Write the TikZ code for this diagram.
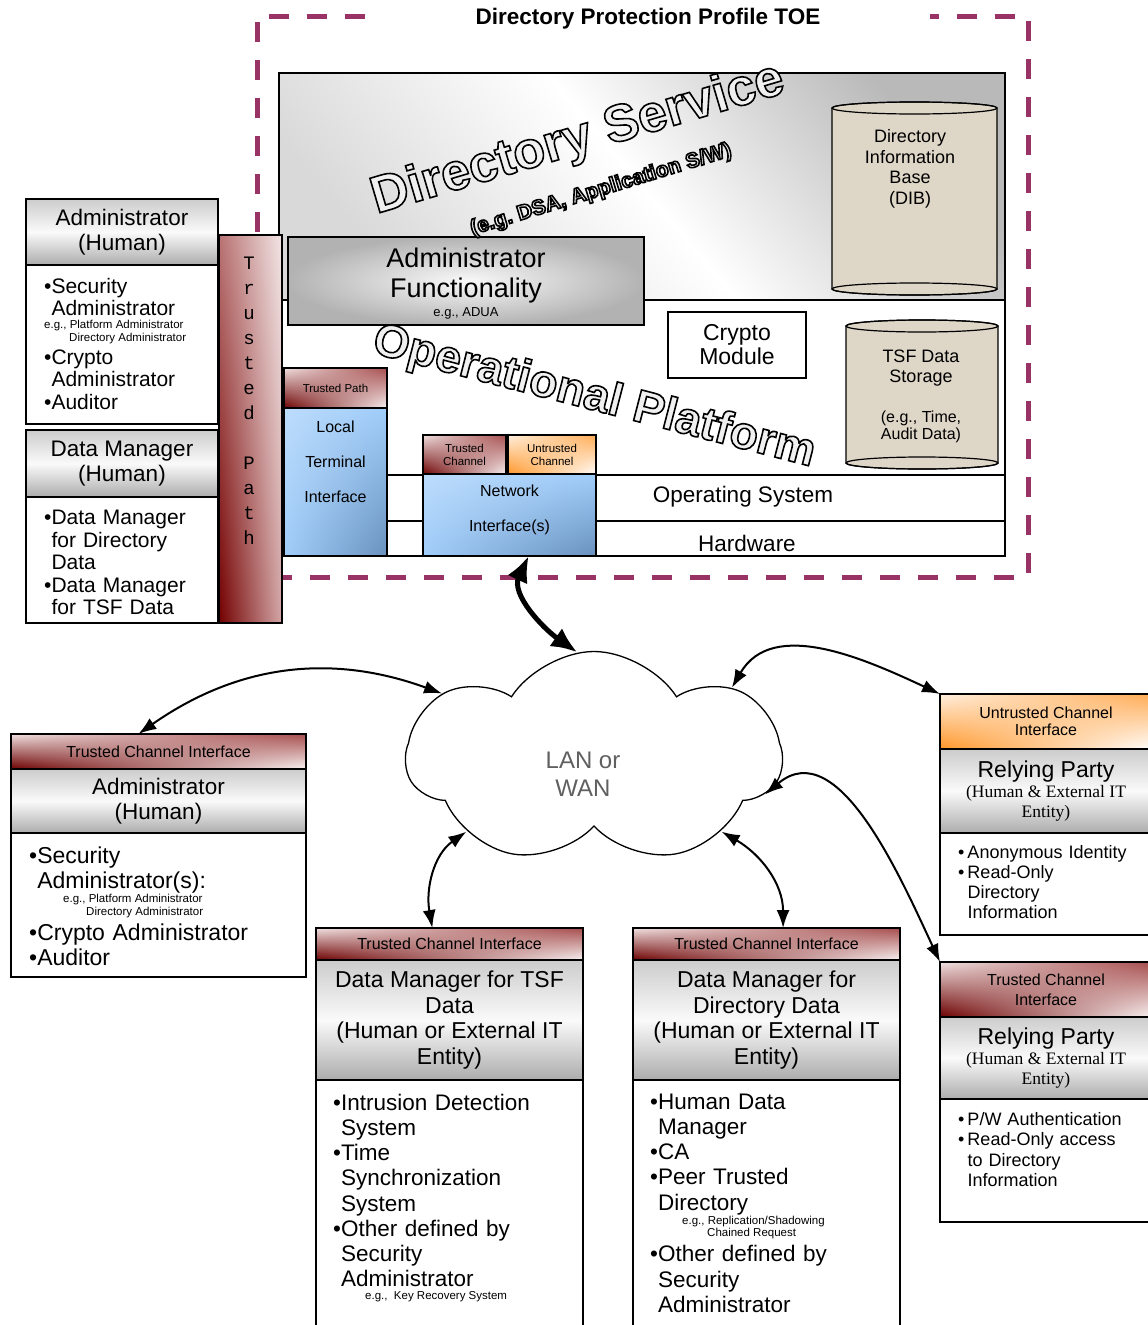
\documentclass[tikz,border=0pt]{standalone}
\usepackage{fontspec}
\setmainfont{Liberation Sans}
\newfontfamily\serifrm{Liberation Serif}
\newfontfamily\monott{Liberation Mono}
\usetikzlibrary{arrows.meta,shapes.symbols,shadings,positioning}
\definecolor{toepurple}{RGB}{153,51,102}
\definecolor{maroon}{RGB}{128,0,0}
\definecolor{netblue}{RGB}{160,205,250}
\definecolor{netdark}{RGB}{105,145,190}
\definecolor{orng}{RGB}{255,150,40}
\definecolor{dibc}{RGB}{222,214,199}
\newcommand\fsz[2]{\fontsize{#1}{#2}\selectfont\spaceskip=\fontdimen2\font\xspaceskip=\fontdimen2\font\relax}
\newcommand\bulind{\hphantom{•}}
\newcommand\rb{•\hspace{3pt}}
\newcommand\rbi{\hphantom{•\hspace{3pt}}}
\newcommand\outl[1]{\special{pdf:literal direct 2 Tr 1.6 w 0 G 0.94 g}#1\special{pdf:literal direct 0 Tr 0 g 0 G}}
\setlength\parindent{0pt}

\begin{document}
\begin{tikzpicture}[x=1pt,y=1pt,
box/.style={draw, line width=1.4pt, anchor=north west, inner sep=0pt, outer sep=0pt},
body/.style={box, fill=white},
txt/.style={anchor=north west, inner sep=0pt, align=left, text width=260pt},
redhdr/.style={shade, shading=bilinear interpolation,
  lower left=maroon!85!black, upper left=maroon!12!white,
  upper right=maroon!70, lower right=maroon!5!white},
orghdr/.style={shade, shading=bilinear interpolation,
  lower left=orng, upper left=orng!15!white,
  upper right=orng!80, lower right=white},
grayhdr/.style={top color=gray!40, bottom color=gray!65, middle color=gray!4},
bluebox/.style={shade, shading=bilinear interpolation,
  upper left=netblue!70!white, lower left=netblue,
  upper right=netblue, lower right=netdark},
cyl/.style={draw, line width=1.2pt, fill=dibc},
toeline/.style={draw=toepurple, line width=5pt, dash pattern=on 20pt off 18pt},
link/.style={line width=2pt, <->},
biglink/.style={line width=5pt, {Latex[length=26pt,width=22pt]}-{Latex[length=26pt,width=22pt]}},
>={Latex[length=18pt,width=13pt]}
]
\useasboundingbox (0,0) rectangle (1148,-1325);

% TOE boundary
\draw[toeline] (365,-16) -- (257,-16) -- (257,-577) -- (1028,-577) -- (1028,-16) -- (930,-16);
\node[font=\bfseries\fsz{22.5}{25}] (toe) at (648,-19) {Directory Protection Profile TOE};

% directory service and platform
\node[box, minimum width=726pt, minimum height=227pt,
  top color=gray!55, bottom color=gray!30, middle color=white, shading angle=-50] (dsv) at (279,-73) {};
\node[body, minimum width=726pt, minimum height=256pt] (plat) at (279,-300) {};
\node[body, minimum width=726pt, minimum height=46pt] (os) at (279,-475) {};
\node[body, minimum width=726pt, minimum height=35pt] (hw) at (279,-521) {};
\node[font=\fsz{22.5}{25}] (ostxt) at (743,-497) {Operating System};
\node[font=\fsz{22.5}{25}] (hwtxt) at (747,-543) {Hardware};

\node[box, minimum width=356pt, minimum height=88pt, inner color=gray!5, outer color=gray!60] (adf) at (288,-237) {};
\node[font=\fsz{27}{30}, align=center] (adft) at (466,-276) {Administrator\\Functionality};
\node[font=\fsz{13}{15}] (adfe) at (466,-313) {e.g., ADUA};

\node[body, minimum width=138pt, minimum height=66pt, align=center, font=\fsz{23}{24}] (cry) at (668,-312) {Crypto\\Module};

% data stores
\path[cyl] (832,-108) -- (832,-289) arc[start angle=180, end angle=360, x radius=82.5, y radius=6]
  -- (997,-108) arc[start angle=0, end angle=180, x radius=82.5, y radius=6] -- cycle;
\draw[line width=1.2pt] (914.5,-108) ellipse[x radius=82.5, y radius=6];
\draw[line width=1.2pt] (914.5,-289) ellipse[x radius=82.5, y radius=6];
\node[font=\fsz{18}{20.5}, align=center] (dibt) at (910,-169) {Directory\\Information\\Base\\(DIB)};

\path[cyl] (846,-326) -- (846,-463) arc[start angle=180, end angle=360, x radius=76, y radius=6]
  -- (998,-326) arc[start angle=0, end angle=180, x radius=76, y radius=6] -- cycle;
\draw[line width=1.2pt] (922,-326) ellipse[x radius=76, y radius=6];
\draw[line width=1.2pt] (922,-463) ellipse[x radius=76, y radius=6];
\node[font=\fsz{18}{20}, align=center] (tsft) at (921,-368) {TSF Data\\Storage};
\node[font=\fsz{16}{16.5}, align=center] (tsfe) at (921,-427) {(e.g., Time,\\Audit Data)};

% interfaces
\node[box, redhdr, minimum width=103pt, minimum height=40pt, font=\fsz{11.5}{13}] (tpl) at (284,-368) {Trusted Path};
\node[box, bluebox, minimum width=103pt, minimum height=148pt] (lti) at (284,-408) {};
\node[font=\fsz{16}{35}, align=center] (ltit) at (335.5,-462) {Local\\Terminal\\Interface};
\node[box, redhdr, minimum width=83pt, minimum height=39pt, align=center, font=\fsz{11.5}{13}] (tch) at (423,-435) {Trusted\\Channel};
\node[box, orghdr, minimum width=88pt, minimum height=39pt, align=center, font=\fsz{11.5}{13}] (uch) at (508,-435) {Untrusted\\Channel};
\node[box, bluebox, minimum width=173pt, minimum height=82pt] (nif) at (423,-474) {};
\node[font=\fsz{16}{35}, align=center] (nift) at (509.5,-509.5) {Network\\Interface(s)};

% big outlined titles
\node[rotate=16.5, font=\bfseries\fsz{52}{52}] (dsvt) at (578,-140) {\outl{Directory Service}};
\node[rotate=17, font=\bfseries\fsz{21}{21}] (dsve) at (601,-190) {\outl{(e.g. DSA, Application S/W)}};
\node[rotate=-14.5, font=\bfseries\fsz{46}{46}] (opt) at (594,-398) {\outl{Operational Platform}};

% trusted path bar
\node[box, shade, shading=bilinear interpolation, lower left=maroon!90!black, upper left=maroon!55!white,
  upper right=maroon!10!white, lower right=maroon!35!white, minimum width=63pt, minimum height=388pt] (tpv) at (219,-235) {};
\node[font=\monott\fsz{19}{25}, align=center] (tpvt) at (249,-401) {T\\r\\u\\s\\t\\e\\d\\[25pt]P\\a\\t\\h};

% local users
\node[box, grayhdr, minimum width=192pt, minimum height=66pt, align=center, font=\fsz{22.5}{25}] (admh) at (26,-199) {Administrator\\(Human)};
\node[body, minimum width=192pt, minimum height=159pt] (admb) at (26,-265) {};
\node[txt, font=\fsz{21}{22.5}] (admbt) at (44,-278) {•Security\\\bulind Administrator\par
  {\fsz{11.5}{13}e.g., Platform Administrator\\\hspace*{25pt}Directory Administrator\par}
  •Crypto\\\bulind Administrator\\•Auditor};

\node[box, grayhdr, minimum width=192pt, minimum height=67pt, align=center, font=\fsz{22.5}{25}] (dmh) at (26,-430) {Data Manager\\(Human)};
\node[body, minimum width=192pt, minimum height=126pt] (dmb) at (26,-497) {};
\node[txt, font=\fsz{21}{22.5}] (dmbt) at (44,-510) {•Data Manager\\\bulind for Directory\\\bulind Data\\•Data Manager\\\bulind for TSF Data};

% remote administrator
\node[box, redhdr, minimum width=295pt, minimum height=35pt, font=\fsz{16}{18}] (tcia) at (11,-734) {Trusted Channel Interface};
\node[box, grayhdr, minimum width=295pt, minimum height=64pt, align=center, font=\fsz{22.5}{25}] (tcib) at (11,-769) {Administrator\\(Human)};
\node[body, minimum width=295pt, minimum height=144pt] (tcic) at (11,-833) {};
\node[txt, font=\fsz{23}{25}] (tcict) at (29,-846.5) {•Security\\\bulind Administrator(s):\par
  {\fsz{11.5}{13}\hspace*{34pt}e.g., Platform Administrator\\\hspace*{57pt}Directory Administrator\par}
  •Crypto Administrator\\•Auditor};

% data managers
\node[box, redhdr, minimum width=267pt, minimum height=32pt, font=\fsz{16}{18}] (dmt) at (316,-928) {Trusted Channel Interface};
\node[box, grayhdr, minimum width=267pt, minimum height=120pt, align=center, font=\fsz{23}{25.5}] (dmtb) at (316,-960) {Data Manager for TSF\\Data\\(Human or External IT\\Entity)};
\node[body, minimum width=267pt, minimum height=260pt] (dmtc) at (316,-1080) {};
\node[txt, font=\fsz{22.5}{25.2}] (dmtct) at (333,-1093.7) {•Intrusion Detection\\\bulind System\\•Time\\\bulind Synchronization\\\bulind System\\•Other defined by\\\bulind Security\\\bulind Administrator\par
  {\fsz{11.5}{13}\hspace*{32pt}e.g.,\ \ Key Recovery System\par}};

\node[box, redhdr, minimum width=267pt, minimum height=32pt, font=\fsz{16}{18}] (dmd) at (633,-928) {Trusted Channel Interface};
\node[box, grayhdr, minimum width=267pt, minimum height=120pt, align=center, font=\fsz{23}{25.5}] (dmdb) at (633,-960) {Data Manager for\\Directory Data\\(Human or External IT\\Entity)};
\node[body, minimum width=267pt, minimum height=260pt] (dmdc) at (633,-1080) {};
\node[txt, font=\fsz{22.5}{25.2}] (dmdct) at (650,-1093.7) {•Human Data\\\bulind Manager\\•CA\\•Peer Trusted\\\bulind Directory\par
  {\fsz{11.5}{12.5}\hspace*{32pt}e.g., Replication/Shadowing\\\hspace*{57pt}Chained Request\par}
  •Other defined by\\\bulind Security\\\bulind Administrator};

% relying parties
\node[box, orghdr, minimum width=212pt, minimum height=55pt, align=center, font=\fsz{16}{17}] (uci) at (940,-694) {Untrusted Channel\\Interface};
\node[box, grayhdr, minimum width=212pt, minimum height=84pt, align=center, text width=205pt] (ucib) at (940,-749)
  {{\fsz{23}{25}Relying Party\par}{\serifrm\fsz{17.5}{20}(Human \& External IT\\Entity)\par}};
\node[body, minimum width=212pt, minimum height=102pt] (ucic) at (940,-833) {};
\node[txt, font=\fsz{18}{20}] (ucict) at (958,-845) {\rb Anonymous Identity\\\rb Read-Only\\\rbi Directory\\\rbi Information};

\node[box, redhdr, minimum width=212pt, minimum height=55pt, align=center, font=\fsz{16}{20}] (tcr) at (940,-962) {Trusted Channel\\Interface};
\node[box, grayhdr, minimum width=212pt, minimum height=82pt, align=center, text width=205pt] (tcrb) at (940,-1017)
  {{\fsz{23}{25}Relying Party\par}{\serifrm\fsz{17.5}{20}(Human \& External IT\\Entity)\par}};
\node[body, minimum width=212pt, minimum height=123pt] (tcrc) at (940,-1099) {};
\node[txt, font=\fsz{18}{20.5}] (tcrct) at (958,-1112) {\rb P/W Authentication\\\rb Read-Only access\\\rbi to Directory\\\rbi Information};

% network
\node[cloud, draw, line width=1.3pt, fill=white, cloud puffs=7, cloud puff arc=115, aspect=1.8,
  minimum width=375pt, minimum height=213pt, inner sep=0pt] (lan) at (594,-758) {};
\node[font=\fsz{24}{28}, align=center, text=gray!75!black] (lant) at (583,-774) {LAN or\\WAN};

\draw[biglink] (nif.-65) to[out=-115,in=145] (lan.99);
\draw[link] (lan.157) to[out=160,in=35] (tcia.139);
\draw[link] (lan.27) to[out=60,in=155] (uci.north west);
\draw[link] (lan.-12) to[out=40,in=115] (tcr.north west);
\draw[link] (lan.210) to[out=215,in=100] (dmt.137);
\draw[link] (lan.-30) to[out=-30,in=90] (dmd.44);

\end{tikzpicture}
\end{document}
